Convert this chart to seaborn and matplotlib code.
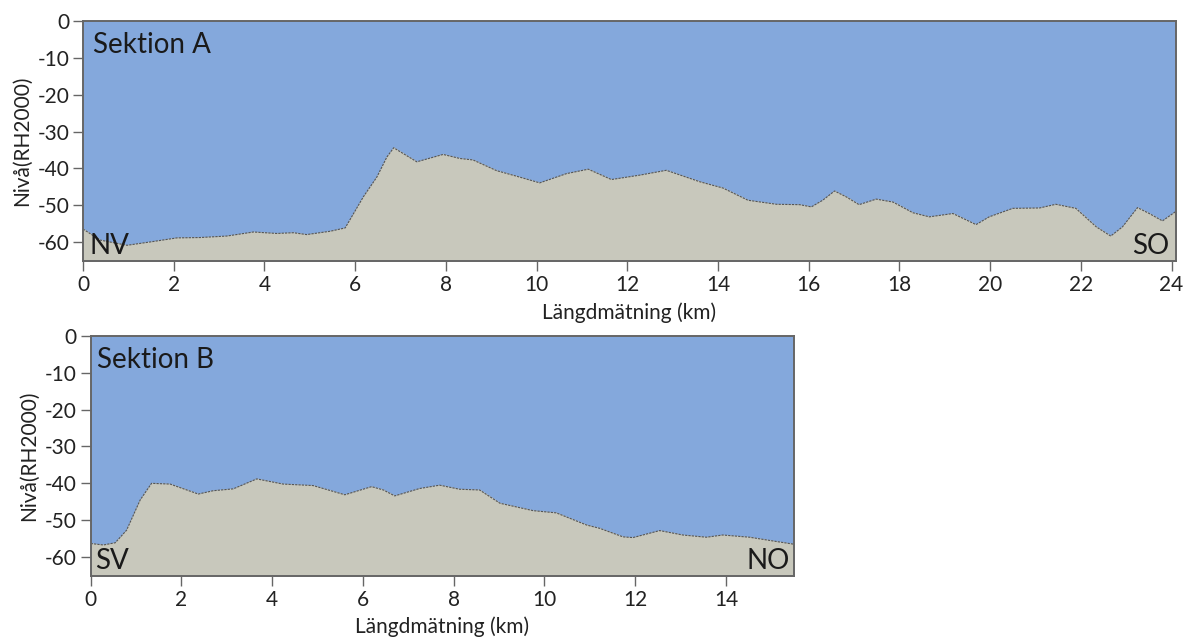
import numpy as np
import pandas as pd
import matplotlib
matplotlib.use("Agg")
import matplotlib.pyplot as plt
import seaborn as sns

# Sektion A: längdmätning (km) och nivå (m, RH2000)
dist_a = [0.0, 0.38, 0.97, 1.48, 2.07, 2.58, 3.17, 3.76, 4.27, 4.64, 4.93, 5.45, 5.78,
          6.18, 6.48, 6.70, 6.85, 7.36, 7.94, 8.31, 8.60, 9.12, 9.56, 10.07, 10.66,
          11.14, 11.65, 12.28, 12.86, 13.60, 14.11, 14.66, 15.29, 15.80, 16.06, 16.31,
          16.57, 16.83, 17.11, 17.49, 17.86, 18.30, 18.66, 19.18, 19.69, 19.98, 20.50,
          21.09, 21.45, 21.89, 22.34, 22.66, 22.92, 23.25, 23.51, 23.80, 24.10]
level_a = [-56.4, -59.4, -60.8, -59.9, -58.8, -58.7, -58.3, -57.2, -57.6, -57.4, -57.9,
           -57.0, -56.1, -47.7, -42.3, -36.9, -34.4, -38.2, -36.2, -37.3, -37.7, -40.6,
           -42.1, -43.9, -41.4, -40.2, -43.0, -41.8, -40.5, -43.6, -45.3, -48.6, -49.7,
           -49.8, -50.4, -48.6, -46.1, -47.7, -49.8, -48.3, -49.1, -52.0, -53.1, -52.2,
           -55.2, -53.1, -50.8, -50.7, -49.7, -50.8, -55.8, -58.3, -55.8, -50.6, -52.2,
           -54.2, -51.6]

# Sektion B
dist_b = [0.0, 0.28, 0.54, 0.79, 1.09, 1.34, 1.75, 2.37, 2.70, 3.14, 3.66, 4.24, 4.90,
          5.60, 6.19, 6.45, 6.70, 7.25, 7.69, 8.13, 8.57, 9.02, 9.75, 10.26, 10.93,
          11.22, 11.73, 11.95, 12.54, 13.05, 13.57, 13.93, 14.52, 15.03, 15.50]
level_b = [-56.3, -56.7, -56.1, -52.7, -44.5, -40.0, -40.2, -42.9, -42.0, -41.5, -38.8,
           -40.2, -40.6, -43.1, -40.9, -41.8, -43.4, -41.4, -40.5, -41.6, -41.8, -45.4,
           -47.4, -48.0, -51.3, -52.2, -54.5, -54.7, -52.8, -54.0, -54.6, -54.0, -54.6,
           -55.6, -56.5]

yticks = [0, -10, -20, -30, -40, -50, -60]

water = "#84a8dc"
ground = "#c8c8bc"

sns.set_style("ticks")
plt.rcParams['font.family'] = ['Lato', 'DejaVu Sans']
plt.rcParams['axes.unicode_minus'] = False

fig = plt.figure(figsize=(11.86, 6.37), dpi=100)
ax_a = fig.add_axes([0.070, 0.590, 0.9216, 0.3775])
ax_b = fig.add_axes([0.0765, 0.0958, 0.593, 0.3772])


def draw(ax, dist, level, xmax, xticks, title, left, right):
    df = pd.DataFrame({"dist": dist, "level": level})
    ax.set_facecolor(water)
    ax.fill_between(df["dist"], df["level"], -65.1, color=ground, zorder=1)
    sns.lineplot(data=df, x="dist", y="level", ax=ax, color="#555555",
                 linewidth=0.8, linestyle=(0, (2, 1)), zorder=2)
    ax.set_xlim(0, xmax)
    ax.set_ylim(-65.1, 0)
    ax.set_xticks(xticks)
    ax.set_yticks(yticks)
    ax.tick_params(direction="out", length=7, width=1, color="#666666",
                   labelsize=15, labelcolor="#222222", pad=3)
    for s in ax.spines.values():
        s.set_color("#666666")
        s.set_linewidth(1.4)
        s.set_zorder(5)
    ax.set_xlabel("Längdmätning (km)", fontsize=15, color="#222222", labelpad=5)
    ax.set_ylabel("Nivå(RH2000)", fontsize=15, color="#222222", labelpad=4)
    ax.text(0.009, 0.955, title, transform=ax.transAxes, fontsize=20,
            va="top", ha="left", color="#1a1a1a")
    ax.text(0.006, 0.01, left, transform=ax.transAxes, fontsize=20,
            va="bottom", ha="left", color="#1a1a1a")
    ax.text(0.994, 0.01, right, transform=ax.transAxes, fontsize=20,
            va="bottom", ha="right", color="#1a1a1a")


draw(ax_a, dist_a, level_a, 24.1, list(range(0, 25, 2)), "Sektion A", "NV", "SO")
draw(ax_b, dist_b, level_b, 15.5, list(range(0, 15, 2)), "Sektion B", "SV", "NO")

fig.savefig("out.png", dpi=100)
